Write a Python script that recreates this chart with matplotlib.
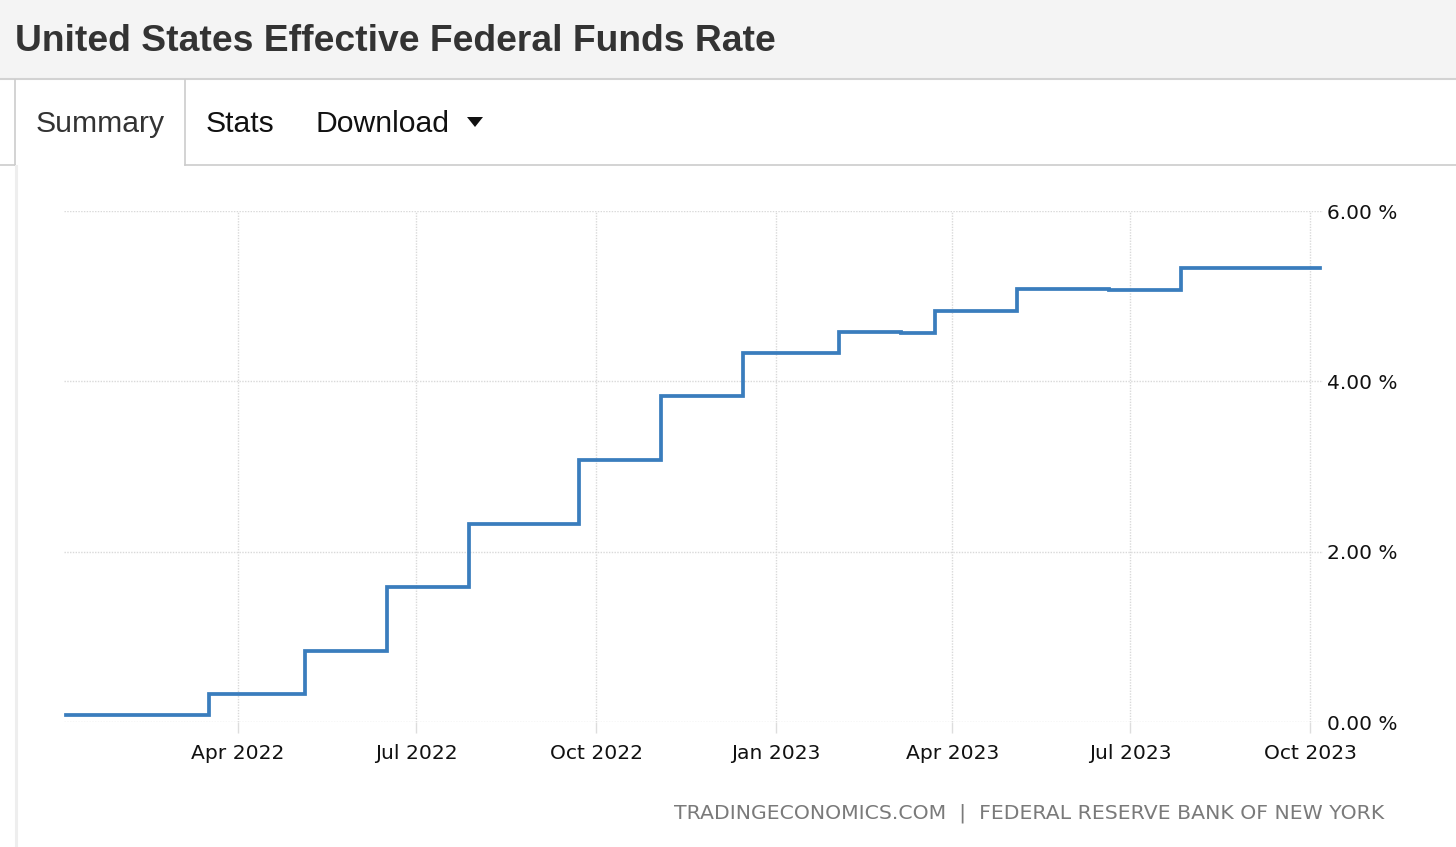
import matplotlib
matplotlib.use("Agg")
import matplotlib.pyplot as plt
from matplotlib.lines import Line2D
from matplotlib.patches import Rectangle, Polygon
import datetime as dt

# ---- data ----
step_dates = ['2022-01-03', '2022-03-17', '2022-05-05', '2022-06-16', '2022-07-28',
              '2022-09-22', '2022-11-03', '2022-12-15', '2023-02-02', '2023-03-06',
              '2023-03-23', '2023-05-04', '2023-06-20', '2023-07-27', '2023-10-06']
rate_values = [0.08, 0.33, 0.83, 1.58, 2.33, 3.08, 3.83, 4.33, 4.58, 4.57,
               4.83, 5.08, 5.07, 5.33, 5.33]
x_tick_dates = ['2022-04-01', '2022-07-01', '2022-10-01', '2023-01-01',
                '2023-04-01', '2023-07-01', '2023-10-01']
x_tick_labels = ['Apr 2022', 'Jul 2022', 'Oct 2022', 'Jan 2023',
                 'Apr 2023', 'Jul 2023', 'Oct 2023']
y_ticks = [0, 2, 4, 6]
y_tick_labels = ['0.00 %', '2.00 %', '4.00 %', '6.00 %']
title = 'United States Effective Federal Funds Rate'
tabs = ['Summary', 'Stats', 'Download']
source = 'TRADINGECONOMICS.COM  |  FEDERAL RESERVE BANK OF NEW YORK'

W, H = 1456, 847
fig = plt.figure(figsize=(W / 100, H / 100), dpi=100)
fig.patch.set_facecolor('white')

def fx(px):
    return px / W

def fy(py):
    return 1 - py / H

# header
fig.add_artist(Rectangle((0, fy(78)), 1, 78 / H, transform=fig.transFigure,
                         facecolor='#f4f4f4', edgecolor='none', zorder=0))
fig.add_artist(Line2D([0, 1], [fy(78.5), fy(78.5)], transform=fig.transFigure,
                      color='#d2d2d2', lw=1.5))
fig.text(fx(15), fy(41.5), title, family='Liberation Sans', weight='bold',
         fontsize=26.8, color='#333333', va='center', ha='left')

# tabs
tabc = '#cccccc'
fig.add_artist(Line2D([fx(15), fx(15)], [fy(80), fy(165)], transform=fig.transFigure, color=tabc, lw=1.2))
fig.add_artist(Line2D([fx(184.5), fx(184.5)], [fy(80), fy(165)], transform=fig.transFigure, color=tabc, lw=1.2))
fig.add_artist(Line2D([fx(184.5), 1], [fy(165), fy(165)], transform=fig.transFigure, color=tabc, lw=1.2))
fig.add_artist(Line2D([0, fx(15)], [fy(165), fy(165)], transform=fig.transFigure, color=tabc, lw=1.2))
fig.add_artist(Line2D([fx(15.5), fx(15.5)], [fy(166), 0], transform=fig.transFigure, color='#eeeeee', lw=2.2))
tabsize = 21.7
fig.text(fx(36), fy(124), tabs[0], family='Liberation Sans', fontsize=tabsize, color='#333333', va='center')
fig.text(fx(206), fy(124), tabs[1], family='Liberation Sans', fontsize=tabsize, color='#111111', va='center')
fig.text(fx(315), fy(124), tabs[2], family='Liberation Sans', fontsize=tabsize, color='#111111', va='center')
fig.add_artist(Polygon([[fx(467), fy(117)], [fx(483), fy(117)], [fx(475), fy(127)]],
                       closed=True, transform=fig.transFigure, facecolor='#111111', edgecolor='none'))

# chart
ax = fig.add_axes([fx(64), fy(722), fx(1323 - 64), (722 - 211) / H])
ax.set_facecolor('none')
dates = [dt.datetime.strptime(d, '%Y-%m-%d') for d in step_dates]
ax.plot(dates, rate_values, drawstyle='steps-post', color='#3a7dbd', lw=2.7,
        solid_joinstyle='miter', zorder=3)
ax.set_xlim(dt.datetime(2022, 1, 2), dt.datetime(2023, 10, 7, 12))
ax.set_ylim(0, 6)
xt = [dt.datetime.strptime(d, '%Y-%m-%d') for d in x_tick_dates]
ax.set_xticks(xt)
ax.set_xticklabels(x_tick_labels)
ax.set_yticks(y_ticks)
ax.set_yticklabels(y_tick_labels)
ax.yaxis.tick_right()
ax.grid(True, color='#d9d9d9', linestyle=(0, (1, 1)), lw=1)
for s in ax.spines.values():
    s.set_visible(False)
ax.tick_params(axis='x', length=8, color='#dddddd', width=1, pad=8,
               labelsize=14.6, labelcolor='#111111')
ax.tick_params(axis='y', length=0, pad=3, labelsize=14.5, labelcolor='#111111')
for lab in ax.get_xticklabels() + ax.get_yticklabels():
    lab.set_family('DejaVu Sans')

fig.text(fx(1384), fy(813), source, family='DejaVu Sans',
         fontsize=14.7, color='#7a7a7a', ha='right', va='center')

fig.savefig('out.png', dpi=100, facecolor='white')
